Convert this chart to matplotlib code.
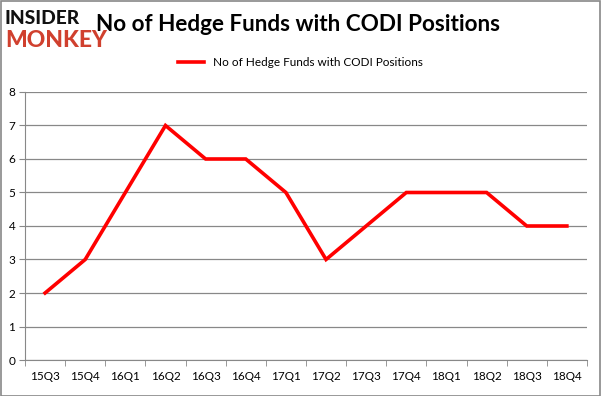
import matplotlib
matplotlib.use("Agg")
import matplotlib.pyplot as plt
from matplotlib.patches import Rectangle

plt.rcParams['font.family'] = ['Lato', 'DejaVu Sans']

# data
quarters = ["15Q3", "15Q4", "16Q1", "16Q2", "16Q3", "16Q4", "17Q1",
            "17Q2", "17Q3", "17Q4", "18Q1", "18Q2", "18Q3", "18Q4"]
hedge_funds = [2, 3, 5, 7, 6, 6, 5, 3, 4, 5, 5, 5, 4, 4]
series_name = "No of Hedge Funds with CODI Positions"
y_ticks = [0, 1, 2, 3, 4, 5, 6, 7, 8]

fig = plt.figure(figsize=(6.01, 3.96), dpi=100)
ax = fig.add_axes([0.0416, 0.0909, 0.935, 0.6768])

x = list(range(len(quarters)))
ax.plot(x, hedge_funds, color="#ff0000", linewidth=2.6, solid_joinstyle="miter")

ax.set_xlim(-0.5, len(quarters) - 0.5)
ax.set_ylim(0, 8)
ax.set_yticks(y_ticks)
ax.set_xticks(x)
ax.set_xticklabels(quarters)
ax.set_xticks([i - 0.5 for i in range(len(quarters) + 1)], minor=True)
ax.tick_params(axis="x", which="major", length=0, pad=8, labelsize=8.5)
ax.tick_params(axis="x", which="minor", length=4, color="#888888")
ax.tick_params(axis="y", length=4, color="#888888", labelsize=8.5, pad=3)

ax.grid(axis="y", color="#888888", linewidth=0.9)
ax.set_axisbelow(True)
for side in ["top", "right"]:
    ax.spines[side].set_visible(False)
ax.spines["left"].set_color("#888888")
ax.spines["bottom"].set_color("#888888")

# title and logo
fig.text(0.16, 0.937, "No of Hedge Funds with CODI Positions", fontsize=16.2,
         fontweight="bold", va="center", ha="left")
fig.text(0.008, 0.953, "INSIDER", fontsize=13.8, fontweight="black",
         color="#111111", va="center", ha="left")
fig.text(0.008, 0.898, "MONKEY", fontsize=16.5, fontweight="black",
         color="#d0402e", va="center", ha="left")

# legend
fig.legend(handles=ax.get_lines(), labels=[series_name], loc="center",
           bbox_to_anchor=(0.5, 0.843), frameon=False, fontsize=8.5,
           handlelength=2.2)

fig.add_artist(Rectangle((0.001, 0.001), 0.997, 0.997, transform=fig.transFigure,
                         fill=False, edgecolor="#888888", linewidth=1.2))

fig.savefig("out.png", dpi=100)
